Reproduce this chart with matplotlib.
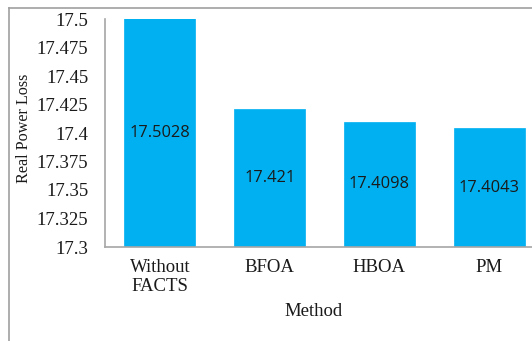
import matplotlib
matplotlib.use("Agg")
import matplotlib.pyplot as plt
from matplotlib.lines import Line2D

methods = ["Without\nFACTS", "BFOA", "HBOA", "PM"]
losses = [17.5028, 17.421, 17.4098, 17.4043]
yticks = [17.3, 17.325, 17.35, 17.375, 17.4, 17.425, 17.45, 17.475, 17.5]
ytick_labels = ["17.3", "17.325", "17.35", "17.375", "17.4", "17.425", "17.45", "17.475", "17.5"]

W, H = 532, 341
fig = plt.figure(figsize=(W / 100, H / 100), dpi=100)
fig.patch.set_facecolor("white")

# axes box in pixel coordinates (left, right, top, bottom)
x0, x1, yt, yb = 105, 544, 19, 247
ax = fig.add_axes([x0 / W, 1 - yb / H, (x1 - x0) / W, (yb - yt) / H])

serif = ["Liberation Serif", "DejaVu Serif"]
fs = 13.5
bar_color = "#00B0F0"
pos = list(range(len(methods)))
ax.bar(pos, losses, width=0.645, color=bar_color, edgecolor=bar_color, linewidth=0.5)

ax.set_ylim(17.3, 17.5)
ax.set_xlim(-0.5, len(methods) - 0.5)
ax.set_yticks(yticks)
ax.set_yticklabels(ytick_labels, family=serif, fontsize=fs, color="#1a1a1a")
ax.set_xticks(pos)
ax.set_xticklabels(methods, family=serif, fontsize=fs, color="#1a1a1a", linespacing=1.1)
ax.tick_params(axis="both", length=0)
ax.tick_params(axis="y", pad=12)
ax.tick_params(axis="x", pad=9)

for s in ["top", "right"]:
    ax.spines[s].set_visible(False)
for s in ["left", "bottom"]:
    ax.spines[s].set_color("#a6a6a6")
    ax.spines[s].set_linewidth(1.2)

# value labels centred in the visible part of each bar
for p, v in zip(pos, losses):
    ymid = (17.3 + min(v, 17.5)) / 2
    ax.text(p, ymid, f"{v:g}", ha="center", va="center", fontsize=11.8,
            family=["Open Sans", "DejaVu Sans"], color="#1a1a1a")

fig.text(314 / W, 1 - 312 / H, "Method", ha="center", va="center",
         family=serif, fontsize=fs, color="#1a1a1a")
fig.text(24 / W, 1 - 128 / H, "Real Power Loss", rotation=90, ha="center", va="center",
         family=serif, fontsize=11.6, color="#1a1a1a")

# outer chart frame (left and top edges)
fig.add_artist(Line2D([9 / W, 9 / W], [0, 1 - 8 / H], transform=fig.transFigure,
                      color="#a0a0a0", linewidth=1.2))
fig.add_artist(Line2D([9 / W, 1], [1 - 8 / H, 1 - 8 / H], transform=fig.transFigure,
                      color="#a0a0a0", linewidth=1.2))

fig.savefig("out.png", dpi=100, facecolor="white")
